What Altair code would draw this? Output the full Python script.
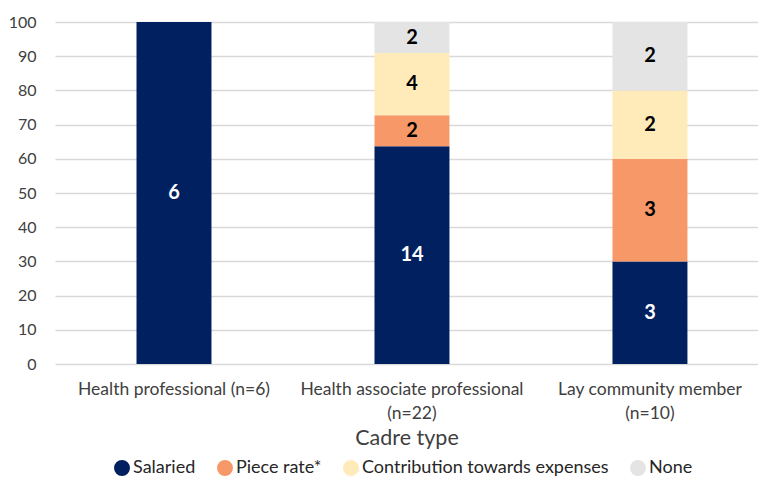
import altair as alt
import pandas as pd

cadres = ["Health professional (n=6)", "Health associate professional (n=22)", "Lay community member (n=10)"]
categories = ["Salaried", "Piece rate*", "Contribution towards expenses", "None"]
salaried = [6, 14, 3]
piece_rate = [0, 2, 3]
contribution = [0, 4, 2]
none_ = [0, 2, 2]
colors = ["#002060", "#F79868", "#FFEBBA", "#E4E4E4"]
y_ticks = list(range(0, 101, 10))

rows = []
series = [salaried, piece_rate, contribution, none_]
for i, c in enumerate(cadres):
    tot = sum(s[i] for s in series)
    for k, (cat, vals) in enumerate(zip(categories, series)):
        if vals[i] > 0:
            rows.append(dict(cadre=c, category=cat, order=k, count=vals[i], pct=vals[i] / tot * 100))
df = pd.DataFrame(rows)

FONT = "Lato"
label_expr = "datum.label == 'Health professional (n=6)' ? datum.label : split(replace(datum.label, ' (', '|('), '|')"

base = alt.Chart(df).transform_stack(
    stack="pct", as_=["y0", "y1"], groupby=["cadre"], sort=[alt.SortField("order", "ascending")]
).transform_calculate(mid="(datum.y0 + datum.y1) / 2")

xscale = alt.Scale(paddingInner=0.685, paddingOuter=0.3195, align=0.536)
yscale = alt.Scale(domain=[0, 100])

xaxis = alt.Axis(title="Cadre type", labelAngle=0, labelExpr=label_expr, labelFontSize=17.5,
                 labelColor="#404040", labelFont=FONT, labelPadding=16, labelLineHeight=24,
                 ticks=False, domain=False, grid=False, titleFontSize=21.5, titleFont=FONT,
                 titleFontWeight="normal", titleColor="#404040", titlePadding=6, labelLimit=300)
yaxis = alt.Axis(title=None, values=y_ticks, ticks=False, domain=False, grid=True,
                 labelOverlap=False, labelFontSize=16, labelColor="#404040", labelFont=FONT,
                 labelPadding=19, gridColor="#D9D9D9", gridWidth=1.3)

bars = base.mark_bar().encode(
    x=alt.X("cadre:N", sort=cadres, scale=xscale, axis=xaxis),
    y=alt.Y("y0:Q", scale=yscale, axis=yaxis),
    y2="y1:Q",
    color=alt.Color("category:N", sort=categories,
                    scale=alt.Scale(domain=categories, range=colors),
                    legend=alt.Legend(title=None, orient="none", legendX=58, legendY=437,
                                      direction="horizontal", symbolType="circle", symbolSize=254,
                                      symbolOpacity=1, symbolStrokeWidth=0, labelFontSize=18,
                                      labelFont=FONT, labelColor="#262626", labelOffset=2,
                                      labelLimit=400, columnPadding=20)),
)

text = base.mark_text(fontWeight="bold", fontSize=20, font=FONT).encode(
    x=alt.X("cadre:N", sort=cadres, scale=xscale, axis=xaxis),
    y=alt.Y("mid:Q", scale=yscale, axis=yaxis),
    text="count:Q",
    color=alt.condition("datum.category == 'Salaried'", alt.value("white"), alt.value("black")),
)

chart = alt.layer(bars, text).properties(
    width=703, height=342,
    autosize=alt.AutoSizeParams(type="none"),
    padding={"left": 55, "top": 22, "right": 0, "bottom": 114},
).configure_view(stroke=None)

chart.save("out.html", embed_options={"renderer": "svg", "actions": False})
